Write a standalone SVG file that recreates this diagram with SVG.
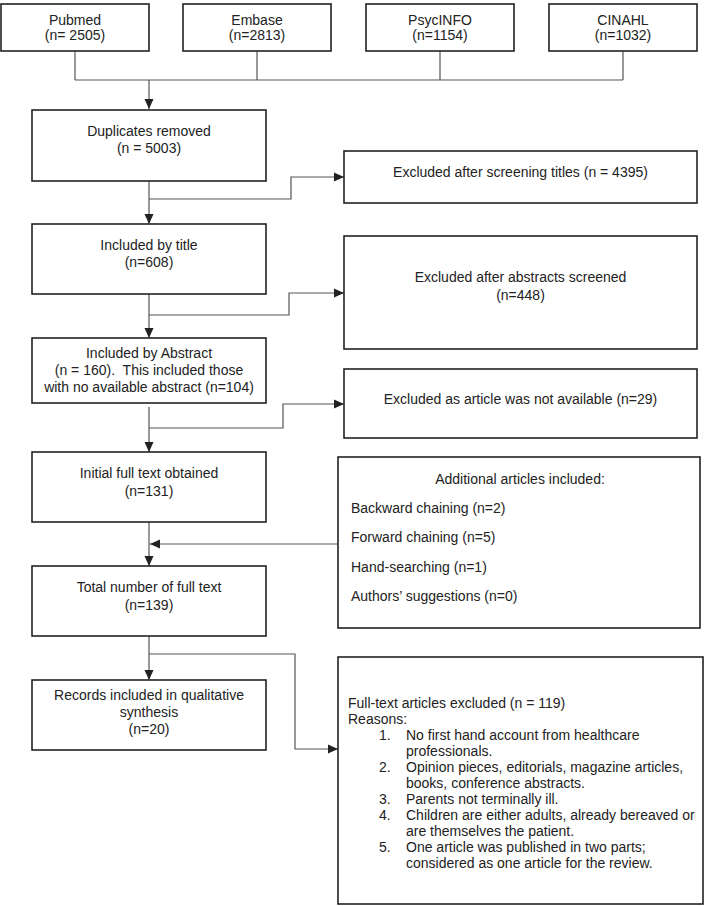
<svg xmlns="http://www.w3.org/2000/svg" width="711" height="906" viewBox="0 0 711 906">
<defs>
<style>
.box{fill:#fff;stroke:#222;stroke-width:1.6}
.t{font-family:"Liberation Sans",Arial,sans-serif;font-size:14px;fill:#222}
.c{text-anchor:middle}
.ln{fill:none;stroke:#555;stroke-width:1.2}
</style>
<marker id="ah" markerUnits="userSpaceOnUse" viewBox="0 0 10 10" refX="10" refY="5" markerWidth="10" markerHeight="10" orient="auto">
<path d="M0,0.5 L10,5 L0,9.5 z" fill="#222"/>
</marker>
</defs>
<rect width="711" height="906" fill="#fff"/>
<g id="connectors">
<path class="ln" d="M75,51 V80 M257,51 V80 M440,51 V80 M623,51 V80 M75,80 H623"/>
<path class="ln" d="M149,80 V109" marker-end="url(#ah)"/>
<path class="ln" d="M149,181 V224" marker-end="url(#ah)"/>
<path class="ln" d="M149,199 H291 V177 H344" marker-end="url(#ah)"/>
<path class="ln" d="M149,294 V338" marker-end="url(#ah)"/>
<path class="ln" d="M149,315 H289 V293 H344" marker-end="url(#ah)"/>
<path class="ln" d="M149,407 V452" marker-end="url(#ah)"/>
<path class="ln" d="M149,428 H283 V404 H344" marker-end="url(#ah)"/>
<path class="ln" d="M149,522 V566" marker-end="url(#ah)"/>
<path class="ln" d="M338,544 H150" marker-end="url(#ah)"/>
<path class="ln" d="M149,636 V680" marker-end="url(#ah)"/>
<path class="ln" d="M149,654 H295 V749 H338" marker-end="url(#ah)"/>
</g>
<g id="pubmed"><rect class="box" x="1" y="4" width="148" height="47"/><text class="t c" x="75" y="25">Pubmed</text><text class="t c" x="75" y="40">(n= 2505)</text></g>
<g id="embase"><rect class="box" x="183" y="4" width="148" height="47"/><text class="t c" x="257" y="25">Embase</text><text class="t c" x="257" y="40">(n=2813)</text></g>
<g id="psycinfo"><rect class="box" x="366" y="4" width="148" height="47"/><text class="t c" x="440" y="25">PsycINFO</text><text class="t c" x="440" y="40">(n=1154)</text></g>
<g id="cinahl"><rect class="box" x="549" y="4" width="148" height="47"/><text class="t c" x="623" y="25">CINAHL</text><text class="t c" x="623" y="40">(n=1032)</text></g>
<g id="duplicates"><rect class="box" x="32" y="110" width="234" height="71"/><text class="t c" x="149" y="136">Duplicates removed</text><text class="t c" x="149" y="153">(n = 5003)</text></g>
<g id="excl-titles"><rect class="box" x="344" y="151" width="353" height="52"/><text class="t c" x="520.5" y="177">Excluded after screening titles (n = 4395)</text></g>
<g id="incl-title"><rect class="box" x="32" y="224" width="234" height="70"/><text class="t c" x="149" y="250">Included by title</text><text class="t c" x="149" y="267">(n=608)</text></g>
<g id="excl-abstracts"><rect class="box" x="344" y="236" width="353" height="113"/><text class="t c" x="520.5" y="282">Excluded after abstracts screened</text><text class="t c" x="520.5" y="300">(n=448)</text></g>
<g id="incl-abstract"><rect class="box" x="32" y="338" width="234" height="65"/><text class="t c" x="149" y="358">Included by Abstract</text><text class="t c" x="149" y="375" xml:space="preserve">(n = 160).  This included those</text><text class="t c" x="149" y="392">with no available abstract (n=104)</text></g>
<g id="excl-na"><rect class="box" x="344" y="369" width="353" height="69"/><text class="t c" x="520.5" y="404">Excluded as article was not available (n=29)</text></g>
<g id="initial"><rect class="box" x="32" y="452" width="234" height="70"/><text class="t c" x="149" y="478">Initial full text obtained</text><text class="t c" x="149" y="496">(n=131)</text></g>
<g id="additional"><rect class="box" x="338" y="457" width="362" height="171"/><text class="t c" x="520" y="484">Additional articles included:</text><text class="t" x="351" y="513">Backward chaining (n=2)</text><text class="t" x="351" y="542">Forward chaining (n=5)</text><text class="t" x="351" y="572">Hand-searching (n=1)</text><text class="t" x="351" y="601">Authors’ suggestions (n=0)</text></g>
<g id="total"><rect class="box" x="32" y="566" width="234" height="70"/><text class="t c" x="149" y="592">Total number of full text</text><text class="t c" x="149" y="610">(n=139)</text></g>
<g id="records"><rect class="box" x="32" y="680" width="234" height="70"/><text class="t c" x="149" y="700">Records included in qualitative</text><text class="t c" x="149" y="717">synthesis</text><text class="t c" x="149" y="734">(n=20)</text></g>
<g id="excl-fulltext"><rect class="box" x="338" y="657" width="365" height="247"/>
<text class="t" x="348" y="708">Full-text articles excluded (n = 119)</text>
<text class="t" x="348" y="724">Reasons:</text>
<text class="t" x="379" y="740">1.</text><text class="t" x="406" y="740">No first hand account from healthcare</text>
<text class="t" x="406" y="756">professionals.</text>
<text class="t" x="379" y="772">2.</text><text class="t" x="406" y="772">Opinion pieces, editorials, magazine articles,</text>
<text class="t" x="406" y="788">books, conference abstracts.</text>
<text class="t" x="379" y="804">3.</text><text class="t" x="406" y="804">Parents not terminally ill.</text>
<text class="t" x="379" y="820">4.</text><text class="t" x="406" y="820">Children are either adults, already bereaved or</text>
<text class="t" x="406" y="836">are themselves the patient.</text>
<text class="t" x="379" y="852">5.</text><text class="t" x="406" y="852">One article was published in two parts;</text>
<text class="t" x="406" y="868">considered as one article for the review.</text>
</g>
</svg>
